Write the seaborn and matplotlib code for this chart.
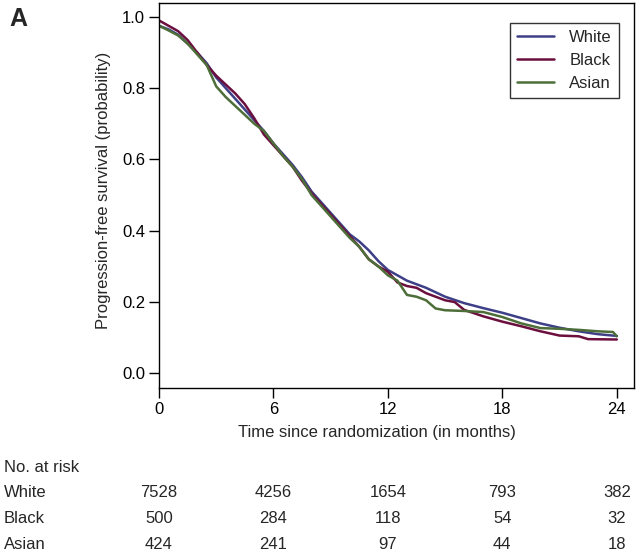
import numpy as np
import pandas as pd
import matplotlib
matplotlib.use("Agg")
import matplotlib.pyplot as plt
import matplotlib.transforms as mtransforms
import seaborn as sns

# Kaplan-Meier progression-free survival
white_t = [0, 0.5, 1, 1.5, 2, 2.5, 3, 3.5, 4, 4.5, 5, 5.5, 6, 6.5, 7, 7.5, 8, 8.5, 9, 9.5,
           10, 10.5, 11, 11.5, 12, 12.5, 13, 13.5, 14, 15, 16, 17, 18, 19, 20, 21, 22, 23, 24]
white_s = [0.975, 0.965, 0.95, 0.925, 0.90, 0.87, 0.83, 0.80, 0.77, 0.74, 0.71, 0.68, 0.645,
           0.615, 0.585, 0.55, 0.51, 0.48, 0.45, 0.42, 0.39, 0.37, 0.345, 0.315, 0.29, 0.275,
           0.26, 0.25, 0.24, 0.215, 0.197, 0.183, 0.17, 0.155, 0.14, 0.128, 0.118, 0.11, 0.105]

black_t = [0, 0.5, 1, 1.5, 2, 2.5, 3, 3.5, 4, 4.5, 5, 5.5, 6, 6.5, 7, 7.5, 8, 8.5, 9, 9.5,
           10, 10.5, 11, 11.5, 12, 12.5, 13, 13.5, 14, 15, 15.5, 16, 17, 18, 19, 20, 21, 22,
           22.5, 24]
black_s = [0.99, 0.975, 0.96, 0.935, 0.90, 0.865, 0.835, 0.81, 0.785, 0.755, 0.715, 0.67,
           0.64, 0.61, 0.58, 0.54, 0.505, 0.475, 0.445, 0.415, 0.385, 0.355, 0.32, 0.30,
           0.285, 0.255, 0.245, 0.24, 0.225, 0.205, 0.20, 0.178, 0.16, 0.145, 0.132, 0.118,
           0.106, 0.104, 0.096, 0.095]

asian_t = [0, 0.5, 1, 1.5, 2, 2.5, 3, 3.5, 4, 4.5, 5, 5.5, 6, 6.5, 7, 7.5, 8, 8.5, 9, 9.5,
           10, 10.5, 11, 11.5, 12, 12.5, 13, 13.5, 14, 14.5, 15, 16, 17, 18, 19, 20, 21, 22,
           23, 23.8, 24]
asian_s = [0.975, 0.962, 0.948, 0.925, 0.895, 0.865, 0.805, 0.775, 0.75, 0.725, 0.70, 0.68,
           0.645, 0.61, 0.58, 0.545, 0.50, 0.47, 0.44, 0.41, 0.38, 0.355, 0.32, 0.30, 0.275,
           0.26, 0.22, 0.215, 0.205, 0.182, 0.177, 0.175, 0.172, 0.158, 0.14, 0.127, 0.125,
           0.122, 0.118, 0.116, 0.104]

groups = ["White", "Black", "Asian"]
colors = {"White": "#3d3f87", "Black": "#6b0f3f", "Asian": "#4d6e38"}

risk_times = [0, 6, 12, 18, 24]
risk_white = [7528, 4256, 1654, 793, 382]
risk_black = [500, 284, 118, 54, 32]
risk_asian = [424, 241, 97, 44, 18]

df = pd.concat([
    pd.DataFrame({"time": white_t, "surv": white_s, "group": "White"}),
    pd.DataFrame({"time": black_t, "surv": black_s, "group": "Black"}),
    pd.DataFrame({"time": asian_t, "surv": asian_s, "group": "Asian"}),
])

sns.set_style("ticks")
plt.rcParams["font.family"] = ["Liberation Sans", "DejaVu Sans"]

fs = 12
fig = plt.figure(figsize=(6.38, 5.58), dpi=100)
ax = fig.add_axes([0.2492, 0.3047, 0.7445, 0.690])

sns.lineplot(data=df, x="time", y="surv", hue="group", hue_order=groups,
             palette=colors, linewidth=1.8, ax=ax, sort=False, estimator=None)

ax.set_xlim(0, 24.9)
ax.set_ylim(-0.041, 1.039)
ax.set_xticks([0, 6, 12, 18, 24])
ax.set_yticks([0.0, 0.2, 0.4, 0.6, 0.8, 1.0])
ax.set_yticklabels(["0.0", "0.2", "0.4", "0.6", "0.8", "1.0"])
ax.tick_params(direction="out", length=7, width=1, labelsize=fs, colors="black", pad=3)
for s in ax.spines.values():
    s.set_visible(True)
    s.set_color("black")
    s.set_linewidth(1)
ax.set_xlabel("Time since randomization (in months)", fontsize=fs, labelpad=3)
ax.xaxis.set_label_coords(0.458, -0.095)
ax.set_ylabel("Progression-free survival (probability)", fontsize=fs, labelpad=6)
ax.yaxis.set_label_coords(-0.101, 0.514)

leg = ax.legend(loc="upper right", bbox_to_anchor=(0.985, 0.97), fontsize=fs,
                frameon=True, fancybox=False, handlelength=2.25, borderpad=0.4,
                labelspacing=0.5, handletextpad=0.9)
leg.get_frame().set_edgecolor("black")
leg.get_frame().set_linewidth(1)

fig.text(0.014, 0.966, "A", fontsize=18, fontweight="bold", va="center")

# number at risk table
trans = mtransforms.blended_transform_factory(ax.transData, fig.transFigure)
fig.text(0.006, 0.163, "No. at risk", fontsize=fs, va="center")
rows = [("White", risk_white, 0.1165), ("Black", risk_black, 0.070), ("Asian", risk_asian, 0.0233)]
for name, counts, yy in rows:
    fig.text(0.006, yy, name, fontsize=fs, va="center")
    for t, n in zip(risk_times, counts):
        ax.text(t, yy, str(n), transform=trans, fontsize=fs, ha="center", va="center",
                clip_on=False)

fig.savefig("out.png", dpi=100)
